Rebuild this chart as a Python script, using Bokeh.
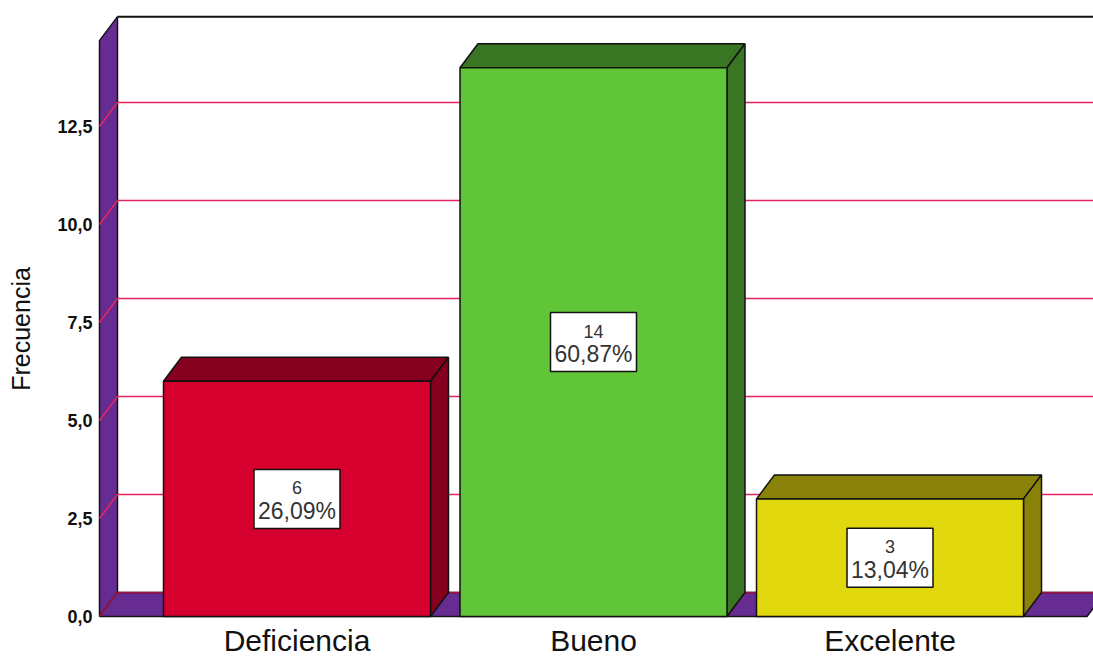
from bokeh.plotting import figure
from bokeh.models import Range1d, FixedTicker
from bokeh.core.properties import value
from bokeh.embed import file_html
from bokeh.resources import INLINE

categories = ["Deficiencia", "Bueno", "Excelente"]
counts = [6, 14, 3]
count_labels = ["6", "14", "3"]
percent_labels = ["26,09%", "60,87%", "13,04%"]
front_colors = ["#D6002F", "#60C637", "#E2D80E"]
shade_colors = ["#85001F", "#3A7524", "#8A8208"]
y_ticks = [0, 2.5, 5, 7.5, 10, 12.5]
y_tick_labels = ["0,0", "2,5", "5,0", "7,5", "10,0", "12,5"]

X_UNIT = 296.5
Y_UNIT = 39.2
DX = 18 / X_UNIT
DY = 24 / Y_UNIT
BAR_W = 267 / X_UNIT
WALL_LEFT = -197.5 / X_UNIT
FLOOR_RIGHT = 790 / X_UNIT
TOP = 14.69
EDGE = "#111111"
PURPLE = "#672C91"
GRID = "#E3255F"
FONT = "Liberation Sans"

p = figure(width=1093, height=657, frame_height=657, frame_width=997,
           output_backend="svg", toolbar_location=None,
           x_range=Range1d(-200.5 / X_UNIT, 796.5 / X_UNIT),
           y_range=Range1d(-41 / Y_UNIT, 616 / Y_UNIT),
           min_border_left=96, min_border_right=0, min_border_top=0, min_border_bottom=0,
           margin=0, outline_line_color=None, y_axis_label="Frecuencia")
p.grid.visible = False
p.xaxis.visible = False

# y axis
ya = p.yaxis[0]
ya.ticker = FixedTicker(ticks=y_ticks)
ya.major_label_overrides = dict(zip(y_ticks, y_tick_labels))
ya.axis_line_color = None
ya.major_tick_line_color = None
ya.minor_tick_line_color = None
ya.major_tick_out = 0
ya.major_label_standoff = 4
ya.major_label_text_font = FONT
ya.major_label_text_font_style = "bold"
ya.major_label_text_font_size = "18px"
ya.major_label_text_color = "#111111"
ya.axis_label_text_font = FONT
ya.axis_label_text_font_style = "normal"
ya.axis_label_text_font_size = "25px"
ya.axis_label_text_color = "#111111"
ya.axis_label_standoff = 19

# side wall and floor
p.patch([WALL_LEFT, WALL_LEFT + DX, WALL_LEFT + DX, WALL_LEFT],
        [0, DY, TOP + DY, TOP], fill_color=PURPLE, line_color=EDGE, line_width=1.5)
p.patch([WALL_LEFT, WALL_LEFT + DX, FLOOR_RIGHT + DX, FLOOR_RIGHT],
        [0, DY, DY, 0], fill_color=PURPLE, line_color=EDGE, line_width=1.5)

# top edge of back wall
p.line([WALL_LEFT + DX, FLOOR_RIGHT + DX], [TOP + DY, TOP + DY], line_color=EDGE, line_width=2)

# grid lines on the back and side walls
for t in y_ticks:
    p.line([WALL_LEFT, WALL_LEFT + DX, FLOOR_RIGHT + DX], [t, t + DY, t + DY],
           line_color="#A8123F" if t == 0 else GRID, line_width=1.5)

# 3-D bars
for i, c in enumerate(counts):
    l, r = i - BAR_W / 2, i + BAR_W / 2
    p.patch([l, l + DX, r + DX, r], [c, c + DY, c + DY, c],
            fill_color=shade_colors[i], line_color=EDGE, line_width=1.5)
    p.patch([r, r + DX, r + DX, r], [0, DY, c + DY, c],
            fill_color=shade_colors[i], line_color=EDGE, line_width=1.5)
    p.quad(left=l, right=r, bottom=0, top=c,
           fill_color=front_colors[i], line_color=EDGE, line_width=1.5)

# data labels
xs = list(range(len(counts)))
ys = [c / 2 for c in counts]
p.rect(xs, ys, width=86, height=59, width_units="screen", height_units="screen",
       fill_color="white", line_color=EDGE, line_width=1.5)
p.text(xs, ys, text=count_labels, text_align="center", text_baseline="middle", y_offset=-11,
       text_font=value(FONT), text_font_size="18px", text_color="#333333")
p.text(xs, ys, text=percent_labels, text_align="center", text_baseline="middle", y_offset=12,
       text_font=value(FONT), text_font_size="23px", text_color="#333333")

# category labels under the floor
p.text(xs, [0] * len(xs), text=categories, text_align="center", text_baseline="alphabetic",
       y_offset=24, text_font=value(FONT), text_font_size="30px", text_color="#111111")

open("out.html", "w").write(file_html(p, INLINE))
